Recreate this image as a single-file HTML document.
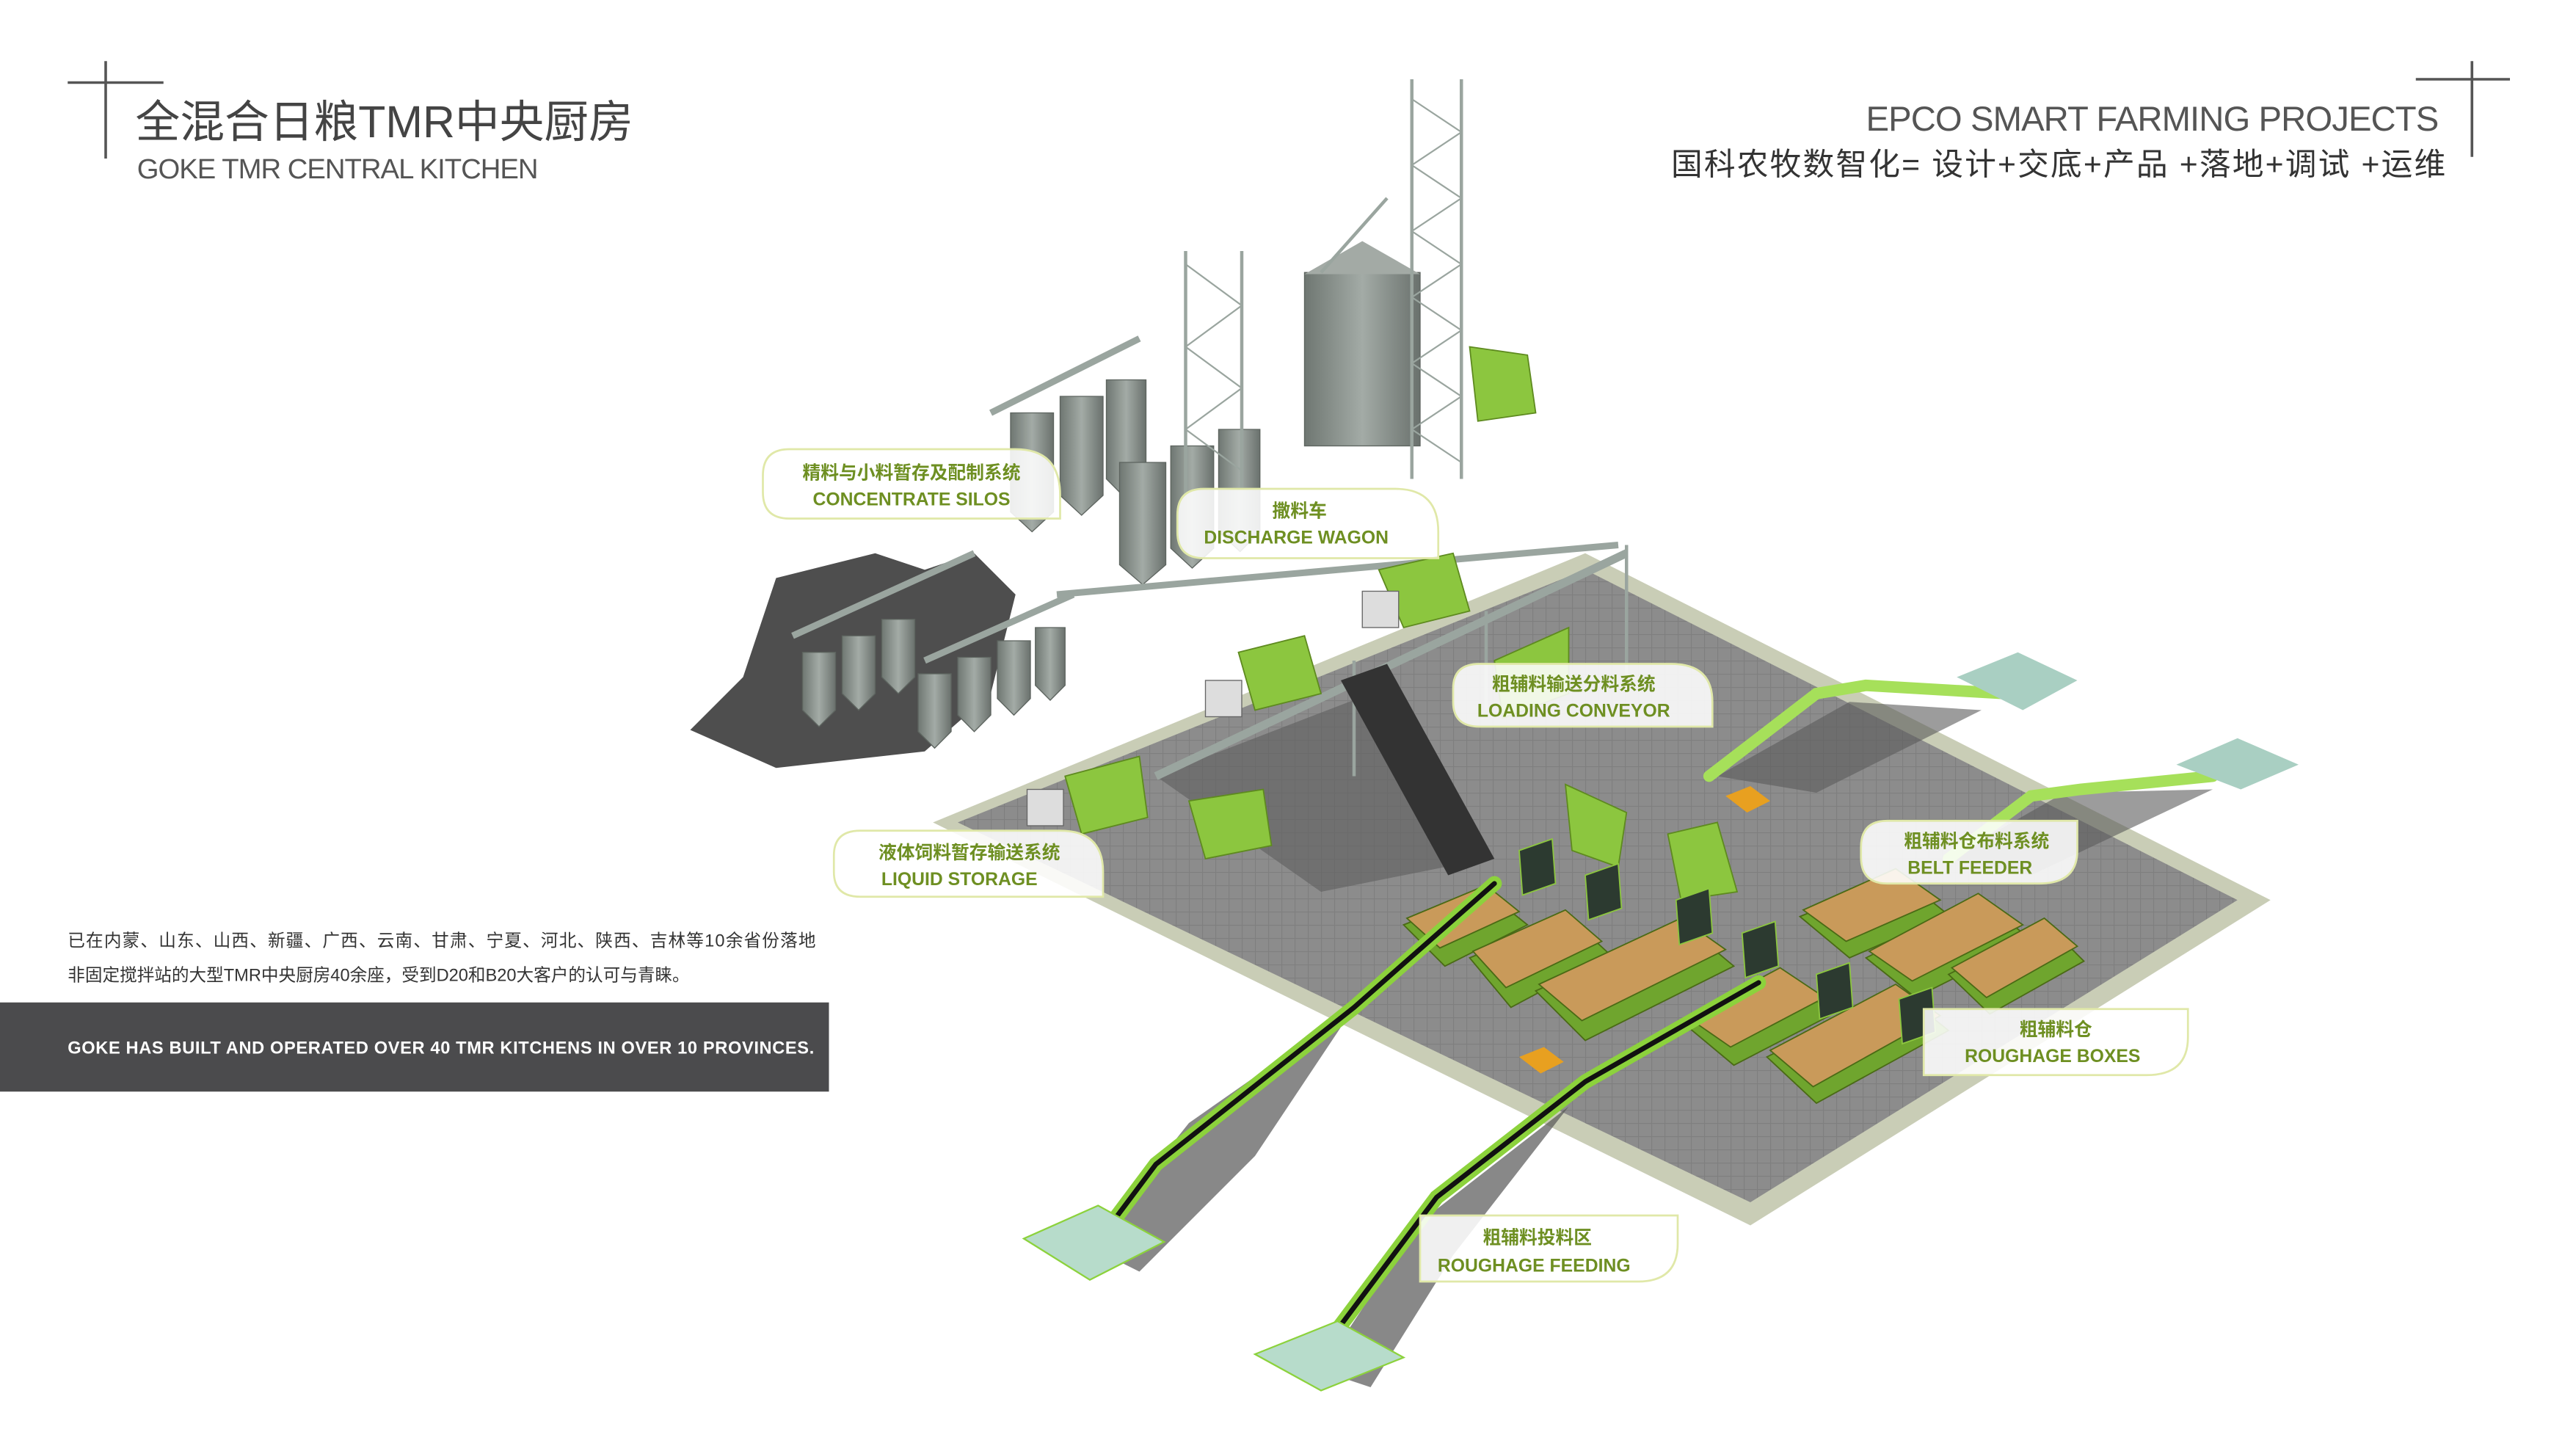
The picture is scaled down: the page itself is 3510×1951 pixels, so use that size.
<!DOCTYPE html>
<html><head><meta charset="utf-8"><style>
html,body{margin:0;padding:0;background:#fff;}
#w{width:1560px;height:867px;transform:scale(2.25);transform-origin:0 0;position:relative;overflow:hidden;}
svg{position:absolute;left:0;top:0;}
.t{font-family:"Liberation Sans","Noto Sans CJK SC",sans-serif;}
</style></head><body><div id="w">
<svg width="1560" height="867" viewBox="0 0 1560 867">
<defs>
<pattern id="grid" width="8" height="8" patternUnits="userSpaceOnUse"><rect width="8" height="8" fill="#8c8c8c"/><path d="M0 0H8M0 0V8" stroke="#7f7f7f" stroke-width="1"/></pattern>
<linearGradient id="sil" x1="0" x2="1"><stop offset="0" stop-color="#6f7772"/><stop offset=".5" stop-color="#a3aba6"/><stop offset="1" stop-color="#6a716d"/></linearGradient>
</defs>
<g stroke="#555" stroke-width="1.6">
<line x1="64" y1="37" x2="64" y2="96"/><line x1="41" y1="50" x2="99" y2="50"/>
<line x1="1497" y1="37" x2="1497" y2="95"/><line x1="1463" y1="48" x2="1520" y2="48"/>
</g>
<!-- floor -->
<polygon points="565,498 960,335 1375,545 1060,742" fill="#c9cdb6"/>
<polygon points="580,498 960,345 1355,545 1060,728" fill="url(#grid)"/>
<!-- shadows -->
<polygon points="418,442 450,410 470,350 530,335 560,345 590,335 615,360 600,420 560,455 470,465" fill="#4e4e4e"/>
<polygon points="700,470 830,420 900,520 800,540" fill="#5e5e5e" opacity=".6"/>
<polygon points="1040,470 1120,425 1200,430 1100,480" fill="#5a5a5a" opacity=".6"/>
<polygon points="1180,520 1250,480 1340,478 1230,530" fill="#5a5a5a" opacity=".6"/>
<polygon points="660,755 720,680 820,610 760,700 690,770" fill="#555" opacity=".7"/>
<polygon points="800,830 860,740 950,670 880,760 830,840" fill="#555" opacity=".7"/>
<!-- silos -->
<g fill="url(#sil)" stroke="#5d645f" stroke-width=".6">
<path d="M612,250h26v60l-13,12l-13,-12z"/><path d="M642,240h26v60l-13,12l-13,-12z"/><path d="M670,230h24v60l-12,12l-12,-12z"/>
<path d="M678,280h28v62l-14,12l-14,-12z"/><path d="M709,270h26v62l-13,12l-13,-12z"/><path d="M738,260h25v62l-12,12l-13,-12z"/>
<path d="M486,395h20v35l-10,10l-10,-10z"/><path d="M510,385h20v35l-10,10l-10,-10z"/><path d="M534,375h20v35l-10,10l-10,-10z"/>
<path d="M556,408h20v35l-10,10l-10,-10z"/><path d="M580,398h20v35l-10,10l-10,-10z"/><path d="M604,388h20v35l-10,10l-10,-10z"/><path d="M627,380h18v35l-9,9l-9,-9z"/>
<rect x="790" y="165" width="70" height="105"/>
</g>
<polygon points="790,166 825,146 860,166" fill="#a3aaa5"/>
<g stroke="#9aa59f" stroke-width="2" fill="none">
<line x1="855" y1="48" x2="855" y2="290"/><line x1="885" y1="48" x2="885" y2="290"/>
<path d="M855,60L885,80L855,100L885,120L855,140L885,160L855,180L885,200L855,220L885,240L855,260L885,280" stroke-width="1"/>
<line x1="718" y1="152" x2="718" y2="300"/><line x1="752" y1="152" x2="752" y2="300"/>
<path d="M718,160L752,185L718,210L752,235L718,260L752,285" stroke-width="1"/>
<line x1="840" y1="120" x2="800" y2="165"/>
<line x1="600" y1="250" x2="690" y2="205" stroke-width="4"/><line x1="480" y1="385" x2="590" y2="335" stroke-width="4"/><line x1="560" y1="400" x2="650" y2="360" stroke-width="4"/>
<line x1="640" y1="360" x2="980" y2="330" stroke-width="4"/><line x1="700" y1="470" x2="985" y2="335" stroke-width="5"/>
<line x1="985" y1="330" x2="985" y2="410"/><line x1="900" y1="370" x2="900" y2="430"/><line x1="820" y1="400" x2="820" y2="470"/>
</g>
<!-- green machines -->
<g fill="#8cc63f" stroke="#5e8a1f" stroke-width=".8">
<polygon points="890,210 925,215 930,250 895,255"/>
<polygon points="835,345 880,335 890,370 850,380"/>
<polygon points="750,395 790,385 800,420 760,430"/>
<polygon points="645,470 690,458 695,495 655,505"/>
<polygon points="905,400 950,380 950,420 910,435"/>
<polygon points="720,485 765,478 770,512 730,520"/>
<polygon points="948,475 985,492 980,525 952,515"/>
<polygon points="1010,505 1040,498 1052,540 1018,545"/>
</g>
<g fill="#ddd" stroke="#666" stroke-width=".6">
<rect x="825" y="358" width="22" height="22"/><rect x="730" y="412" width="22" height="22"/><rect x="622" y="478" width="22" height="22"/>
</g>
<polygon points="812,412 840,402 905,520 877,530" fill="#333"/>
<!-- bins -->
<g stroke="#4a6a15" stroke-width=".8">
<g fill="#6fa52e">
<polygon points="850,560 900,540 925,560 875,585"/><polygon points="890,580 950,555 975,578 915,610"/>
<polygon points="930,600 1020,560 1050,585 960,630"/><polygon points="1020,620 1080,590 1110,614 1050,645"/>
<polygon points="1070,640 1150,600 1180,624 1100,668"/><polygon points="1090,555 1150,530 1180,554 1120,580"/>
<polygon points="1130,580 1200,545 1230,569 1160,604"/><polygon points="1180,590 1240,560 1262,582 1205,614"/>
</g>
<g fill="#c99a5a">
<polygon points="852,556 900,536 920,552 872,574"/><polygon points="892,576 948,551 970,570 912,598"/>
<polygon points="932,596 1018,556 1045,575 958,618"/><polygon points="1022,616 1078,586 1105,604 1048,634"/>
<polygon points="1072,636 1148,596 1175,615 1098,658"/><polygon points="1092,551 1148,526 1175,545 1118,570"/>
<polygon points="1132,576 1198,541 1225,560 1158,594"/><polygon points="1182,586 1238,556 1258,573 1203,604"/>
</g>
</g>
<g fill="#2c3a30" stroke="#8cc63f" stroke-width=".8">
<polygon points="920,515 940,508 942,535 922,542"/><polygon points="960,530 980,523 982,550 962,557"/><polygon points="1015,545 1035,538 1037,565 1017,572"/>
<polygon points="1055,565 1075,558 1077,585 1057,592"/><polygon points="1100,590 1120,583 1122,610 1102,617"/><polygon points="1150,605 1170,598 1172,625 1152,632"/>
</g>
<!-- conveyors -->
<g fill="none" stroke-linecap="round">
<polyline points="655,765 700,705 820,610 905,535" stroke="#8cd23c" stroke-width="9"/>
<polyline points="655,765 700,705 820,610 905,535" stroke="#111" stroke-width="3"/>
<polyline points="795,825 870,725 960,655 1065,595" stroke="#8cd23c" stroke-width="9"/>
<polyline points="795,825 870,725 960,655 1065,595" stroke="#111" stroke-width="3"/>
<polyline points="1035,470 1100,420 1130,415 1215,420" stroke="#a6e05a" stroke-width="7"/>
<polyline points="1180,520 1230,482 1260,478 1340,470" stroke="#a6e05a" stroke-width="7"/>
</g>
<polygon points="620,750 665,730 705,752 660,775" fill="#b7dccb" stroke="#8cd23c"/>
<polygon points="760,820 810,800 850,822 800,842" fill="#b7dccb" stroke="#8cd23c"/>
<polygon points="1185,410 1222,395 1258,412 1225,430" fill="#a9cfc2"/>
<polygon points="1318,463 1355,447 1392,463 1357,478" fill="#a9cfc2"/>
<polygon points="1045,482 1060,476 1072,485 1058,492" fill="#e8a020"/>
<polygon points="920,640 935,634 947,643 933,650" fill="#e8a020"/>
<!-- labels -->
<g fill="rgba(255,255,255,.88)" stroke="#e0e8a8" stroke-width="1.2">
<path d="M478,272 H615 Q642,272 642,300 V314 H478 Q462,314 462,298 V288 Q462,272 478,272Z"/>
<path d="M729,296 H845 Q871,296 871,322 V338 H729 Q713,338 713,322 V312 Q713,296 729,296Z"/>
<path d="M896,402 H1012 Q1037,402 1037,425 V440 H896 Q880,440 880,425 V417 Q880,402 896,402Z"/>
<path d="M521,503 H642 Q668,503 668,528 V543 H521 Q505,543 505,528 V518 Q505,503 521,503Z"/>
<path d="M1143,497 H1258 V515 Q1258,535 1235,535 H1143 Q1127,535 1127,519 V513 Q1127,497 1143,497Z"/>
<path d="M1165,611 H1325 V628 Q1325,651 1300,651 H1165Z"/>
<path d="M860,736 H1016 V753 Q1016,776 992,776 H860Z"/>
</g>
<g class="t" fill="#6e8f22" font-weight="bold" font-size="11" text-anchor="middle">
<text x="552" y="290">精料与小料暂存及配制系统</text><text x="552" y="306">CONCENTRATE SILOS</text>
<text x="787" y="313">撒料车</text><text x="785" y="329">DISCHARGE WAGON</text>
<text x="953" y="418">粗辅料输送分料系统</text><text x="953" y="434">LOADING CONVEYOR</text>
<text x="587" y="520">液体饲料暂存输送系统</text><text x="581" y="536">LIQUID STORAGE</text>
<text x="1197" y="513">粗辅料仓布料系统</text><text x="1193" y="529">BELT FEEDER</text>
<text x="1245" y="627">粗辅料仓</text><text x="1243" y="643">ROUGHAGE BOXES</text>
<text x="931" y="753">粗辅料投料区</text><text x="929" y="770">ROUGHAGE FEEDING</text>
</g>
<g class="t">
<text x="82" y="83" font-size="27" fill="#444">全混合日粮TMR中央厨房</text>
<text x="83" y="108" font-size="17" fill="#555" textLength="243">GOKE TMR CENTRAL KITCHEN</text>
<text x="1477" y="79" font-size="21" fill="#555" text-anchor="end" textLength="347">EPCO SMART FARMING PROJECTS</text>
<text x="1481" y="106" font-size="19" fill="#333" text-anchor="end" textLength="469">国科农牧数智化= 设计+交底+产品 +落地+调试 +运维</text>
<text x="41" y="573" font-size="10.5" fill="#333" textLength="453">已在内蒙、山东、山西、新疆、广西、云南、甘肃、宁夏、河北、陕西、吉林等10余省份落地</text>
<text x="41" y="594" font-size="10.5" fill="#333">非固定搅拌站的大型TMR中央厨房40余座，受到D20和B20大客户的认可与青睐。</text>
</g>
<rect x="0" y="607" width="502" height="54" fill="#4b4b4d"/>
<text class="t" x="41" y="638" font-size="10.5" font-weight="bold" fill="#fff" textLength="452">GOKE HAS BUILT AND OPERATED OVER 40 TMR KITCHENS IN OVER 10 PROVINCES.</text>
</svg>
</div></body></html>
